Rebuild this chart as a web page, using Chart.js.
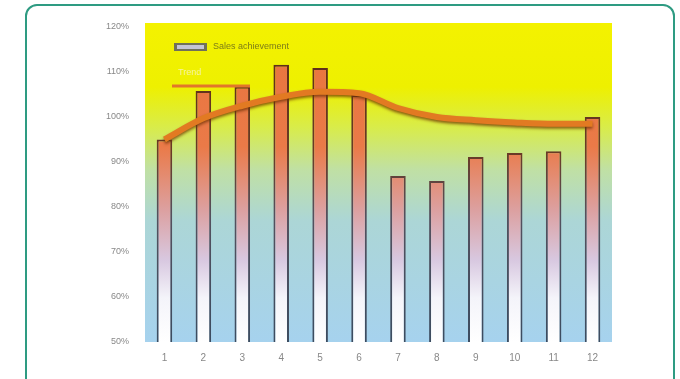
<!DOCTYPE html>
<html>
<head>
<meta charset="utf-8">
<script src="https://cdn.jsdelivr.net/npm/chart.js@4.4.1/dist/chart.umd.min.js"></script>
<style>
  html, body { margin: 0; padding: 0; background: #ffffff; }
  #wrap { position: relative; width: 680px; height: 379px; overflow: hidden; }
  #frame {
    position: absolute; left: 25px; top: 4px; width: 650px; height: 400px;
    border: 2px solid #2e9b82; border-radius: 12px; box-sizing: border-box;
  }
  #chart { position: absolute; left: 0; top: 0; }
</style>
</head>
<body>
<div id="wrap">
  <div id="frame"></div>
  <canvas id="chart" width="680" height="379"></canvas>
</div>
<script>
// Months 1..12
const categories = ['1', '2', '3', '4', '5', '6', '7', '8', '9', '10', '11', '12'];
// Monthly ratio (%)
const barValues = [95, 105.8, 106.7, 111.6, 110.9, 104.9, 86.9, 85.8, 91.1, 92, 92.4, 100];
// Smoothed trend (%)
const trendValues = [95, 99.7, 102.5, 104.5, 105.6, 105.3, 102, 100, 99.3, 98.8, 98.5, 98.5];
const yMin = 50, yMax = 120, yStep = 10;
const barLabel = 'Sales achievement';
const lineLabel = 'Trend';

function areaGradient(ctx, top, bottom, stops) {
  const g = ctx.createLinearGradient(0, top, 0, bottom);
  stops.forEach(s => g.addColorStop(s[0], s[1]));
  return g;
}

// Gradient plot background (reaches a little above the top tick)
const plotBackground = {
  id: 'plotBackground',
  beforeDraw(chart) {
    const { ctx, chartArea: a } = chart;
    const top = a.top - 4;
    ctx.save();
    ctx.fillStyle = areaGradient(ctx, top, a.bottom, [
      [0, '#f4f200'], [0.2, '#eef000'], [0.33, '#d8ec4c'],
      [0.46, '#c0e0a4'], [0.62, '#acd6d6'], [1, '#a6d2ee']
    ]);
    ctx.fillRect(a.left, top, a.right - a.left, a.bottom - top);
    ctx.restore();
  }
};

// Soft shadow under the trend line
const lineShadow = {
  id: 'lineShadow',
  beforeDatasetDraw(chart, args) {
    if (args.index === 1) {
      const ctx = chart.ctx;
      ctx.save();
      ctx.shadowColor = 'rgba(110,50,5,0.75)';
      ctx.shadowBlur = 3;
      ctx.shadowOffsetY = 2;
    }
  },
  afterDatasetDraw(chart, args) {
    if (args.index === 1) chart.ctx.restore();
  }
};

// Legend drawn inside the plot area, top-left
const innerLegend = {
  id: 'innerLegend',
  afterDraw(chart) {
    const { ctx, chartArea: a } = chart;
    const x = a.left + 29, y1 = a.top + 20, y2 = a.top + 59;
    ctx.save();
    ctx.fillStyle = '#70705a';
    ctx.fillRect(x, y1 - 4, 33, 8);
    ctx.fillStyle = '#c4c4d4';
    ctx.fillRect(x + 3, y1 - 2, 27, 4);
    ctx.font = '9px "Liberation Sans", Arial, sans-serif';
    ctx.textBaseline = 'middle';
    ctx.fillStyle = '#7c7c18';
    ctx.fillText(barLabel, x + 39, y1);
    ctx.strokeStyle = '#e2762a';
    ctx.lineWidth = 3;
    ctx.beginPath();
    ctx.moveTo(x - 2, y2);
    ctx.lineTo(x + 76, y2);
    ctx.stroke();
    ctx.fillStyle = '#f6f2a0';
    ctx.fillText(lineLabel, x + 4, y2 - 13);
    ctx.restore();
  }
};

const ctx = document.getElementById('chart').getContext('2d');
new Chart(ctx, {
  type: 'bar',
  data: {
    labels: categories,
    datasets: [
      {
        type: 'bar',
        label: barLabel,
        data: barValues,
        order: 2,
        barPercentage: 0.4,
        categoryPercentage: 1,
        borderWidth: 2,
        borderSkipped: 'bottom',
        backgroundColor(c) {
          const a = c.chart.chartArea;
          if (!a) return '#e0804a';
          return areaGradient(c.chart.ctx, a.top, a.bottom, [
            [0, '#e8743c'], [0.38, '#ea7a48'], [0.58, '#dca0a0'],
            [0.74, '#d8c8e0'], [0.86, '#f4f4fa'], [1, '#ffffff']
          ]);
        },
        borderColor(c) {
          const a = c.chart.chartArea;
          if (!a) return '#5a3a2a';
          return areaGradient(c.chart.ctx, a.top, a.bottom, [
            [0, '#5a2a14'], [0.4, '#6a3a26'], [0.6, '#54505e'], [1, '#3c4c60']
          ]);
        }
      },
      {
        type: 'line',
        label: lineLabel,
        data: trendValues,
        order: 1,
        borderColor: '#e27a22',
        borderWidth: 6,
        tension: 0.4,
        cubicInterpolationMode: 'monotone',
        pointRadius: 0,
        fill: false
      }
    ]
  },
  options: {
    responsive: false,
    animation: false,
    layout: { padding: { left: 30, right: 68, top: 27, bottom: 12 } },
    plugins: { legend: { display: false }, tooltip: { enabled: false } },
    scales: {
      x: {
        grid: { display: false },
        border: { display: false },
        ticks: { color: '#888', font: { size: 10, family: '"Liberation Sans", Arial, sans-serif' }, padding: 2 },
        afterFit(s) { s.height = 25; }
      },
      y: {
        min: yMin, max: yMax,
        grid: { display: false },
        border: { display: false },
        ticks: {
          stepSize: yStep,
          color: '#888',
          padding: 8,
          font: { size: 9, family: '"Liberation Sans", Arial, sans-serif' },
          callback: v => v + '%'
        },
        afterFit(s) { s.width = 115; }
      }
    }
  },
  plugins: [plotBackground, lineShadow, innerLegend]
});
</script>
</body>
</html>
